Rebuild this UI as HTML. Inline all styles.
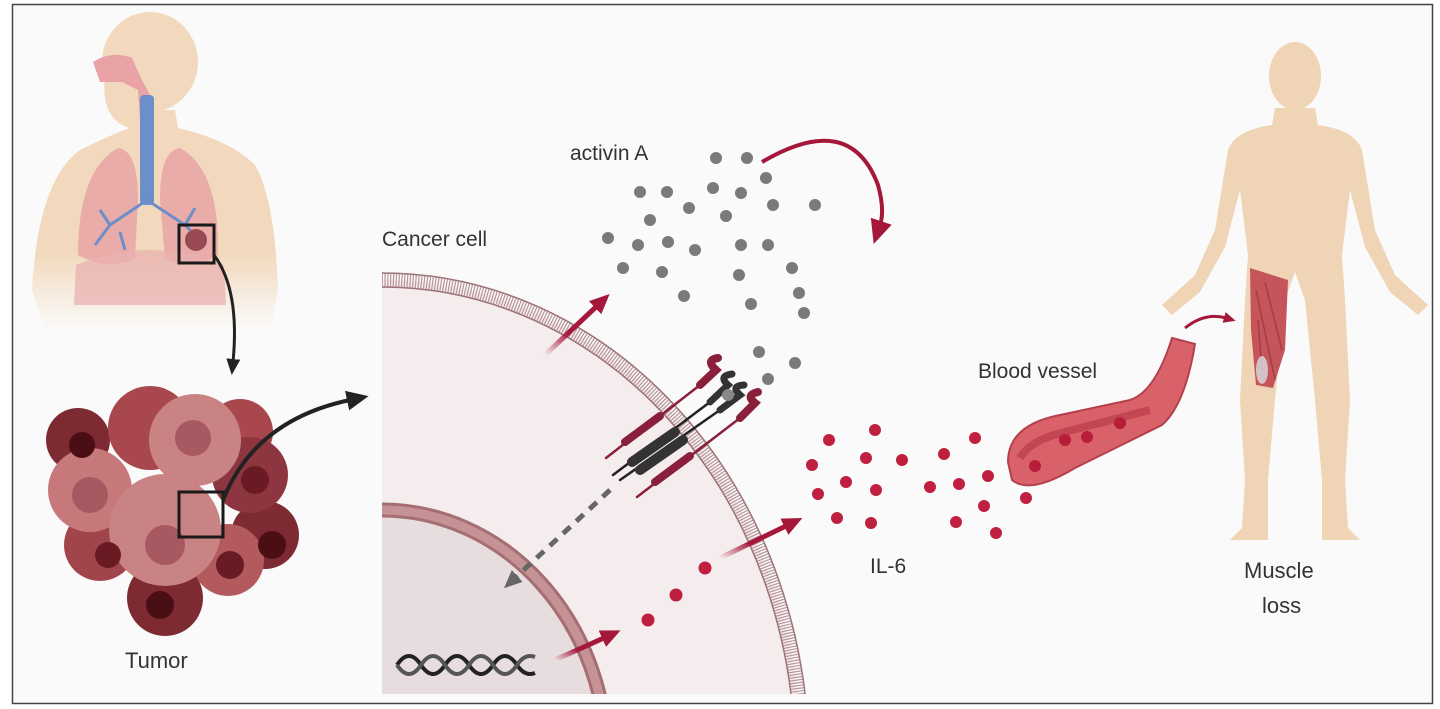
<!DOCTYPE html>
<html><head><meta charset="utf-8"><style>
html,body{margin:0;padding:0;background:#fff;overflow:hidden}
svg{display:block}
text{font-family:"Liberation Sans",sans-serif;fill:#333}
</style></head><body>
<svg width="1440" height="709" viewBox="0 0 1440 709" xmlns="http://www.w3.org/2000/svg">
<defs>
<clipPath id="cell"><rect x="382" y="268" width="426" height="426"/></clipPath>
<marker id="rh" markerWidth="20" markerHeight="18" refX="4" refY="9" orient="auto" markerUnits="userSpaceOnUse"><path d="M0,0 L20,9 L0,18 z" fill="#a5183a"/></marker>
<marker id="rh2" markerWidth="24" markerHeight="22" refX="4" refY="11" orient="auto" markerUnits="userSpaceOnUse"><path d="M0,0 L24,11 L0,22 z" fill="#a5183a"/></marker>
<marker id="rhs" markerWidth="12" markerHeight="11" refX="2" refY="5.5" orient="auto" markerUnits="userSpaceOnUse"><path d="M0,0 L12,5.5 L0,11 z" fill="#a5183a"/></marker>
<marker id="bh" markerWidth="16" markerHeight="14" refX="3" refY="7" orient="auto" markerUnits="userSpaceOnUse"><path d="M0,0 L16,7 L0,14 z" fill="#222"/></marker>
<marker id="bh2" markerWidth="22" markerHeight="20" refX="3" refY="10" orient="auto" markerUnits="userSpaceOnUse"><path d="M0,0 L22,10 L0,20 z" fill="#222"/></marker>
<marker id="gh" markerWidth="18" markerHeight="16" refX="3" refY="8" orient="auto" markerUnits="userSpaceOnUse"><path d="M0,0 L18,8 L0,16 z" fill="#666"/></marker>
<linearGradient id="fadeL" x1="0" y1="0" x2="0" y2="1"><stop offset="0.65" stop-color="#f2d9bd"/><stop offset="1" stop-color="#f2d9bd" stop-opacity="0"/></linearGradient>
<linearGradient id="ra1" x1="0" y1="1" x2="1" y2="0"><stop offset="0" stop-color="#a5183a" stop-opacity="0"/><stop offset="0.45" stop-color="#a5183a"/></linearGradient>
</defs>
<rect x="0" y="0" width="1440" height="709" fill="#fff"/>
<rect x="12.5" y="4.5" width="1420" height="699" fill="#fafafa" stroke="#444" stroke-width="1.5"/>

<!-- Lung figure -->
<g>
<path d="M32,290 Q38,180 80,150 Q110,135 130,128 L135,110 L175,110 L178,128 Q230,140 255,165 Q275,200 278,290 L270,330 L45,330 Z" fill="url(#fadeL)"/>
<ellipse cx="150" cy="62" rx="48" ry="50" fill="#f2d9bd"/>
<path d="M105,75 Q100,120 130,128 L150,128 L150,80 Z" fill="#f2d9bd"/>
<path d="M93,62 Q112,50 132,58 L142,80 L150,95 L150,120 L140,120 L138,90 L122,82 L100,82 Z" fill="#e9a3a6"/>
<path d="M78,255 Q78,170 118,148 Q138,150 138,200 L135,258 Q110,272 78,255 Z" fill="#e9a3a6" opacity="0.85"/>
<path d="M218,255 Q220,170 180,148 Q160,150 160,200 L165,258 Q190,272 218,255 Z" fill="#e9a3a6" opacity="0.85"/>
<path d="M76,265 Q150,235 224,265 L226,305 L74,305 Z" fill="#eab2b0" opacity="0.75"/>
<rect x="140" y="95" width="14" height="110" rx="4" fill="#6d8fc9"/>
<path d="M147,200 L110,225 L95,245 M110,225 L100,210 M147,200 L185,225 L200,240 M185,225 L195,208 M120,232 L125,250" stroke="#6d8fc9" stroke-width="3" fill="none"/>
<circle cx="196" cy="240" r="11" fill="#9a4a52"/>
<rect x="179" y="225" width="35" height="38" fill="none" stroke="#1a1a1a" stroke-width="3"/>
<path d="M214,255 Q240,290 233,362" stroke="#222" stroke-width="3" fill="none" marker-end="url(#bh)"/>
</g>

<!-- Tumor -->
<g>
<circle cx="78" cy="440" r="32" fill="#7d2a33"/>
<circle cx="240" cy="432" r="33" fill="#a8474d"/>
<circle cx="265" cy="535" r="34" fill="#7d2a33"/>
<circle cx="150" cy="428" r="42" fill="#a8474d"/>
<circle cx="100" cy="545" r="36" fill="#a0454c"/>
<circle cx="165" cy="598" r="38" fill="#7d2a33"/>
<circle cx="250" cy="475" r="38" fill="#8e3640"/>
<circle cx="90" cy="490" r="42" fill="#c7787a"/>
<circle cx="195" cy="440" r="46" fill="#c98384"/>
<circle cx="228" cy="560" r="36" fill="#b25a5e"/>
<circle cx="165" cy="530" r="56" fill="#c98384"/>
<circle cx="90" cy="495" r="18" fill="#a85860"/>
<circle cx="193" cy="438" r="18" fill="#a85860"/>
<circle cx="165" cy="545" r="20" fill="#a85860"/>
<circle cx="82" cy="445" r="13" fill="#4a0e15"/>
<circle cx="272" cy="545" r="14" fill="#4a0e15"/>
<circle cx="160" cy="605" r="14" fill="#4a0e15"/>
<circle cx="230" cy="565" r="14" fill="#6a1a22"/>
<circle cx="108" cy="555" r="13" fill="#6a1a22"/>
<circle cx="255" cy="480" r="14" fill="#6a1a22"/>
<rect x="179" y="492" width="44" height="45" fill="none" stroke="#1a1a1a" stroke-width="3"/>
<path d="M223,500 Q255,420 350,400" stroke="#222" stroke-width="4" fill="none" marker-end="url(#bh2)"/>
<text x="125" y="668" font-size="22">Tumor</text>
</g>

<!-- Cancer cell -->
<text x="382" y="246" font-size="21">Cancer cell</text>
<g clip-path="url(#cell)">
<rect x="382" y="268" width="426" height="426" fill="#fafafa"/>
<ellipse cx="382" cy="760" rx="420" ry="480" fill="#f5ecee"/>
<ellipse cx="382" cy="760" rx="420" ry="480" fill="none" stroke="#b79499" stroke-width="14" stroke-dasharray="1.2 1.6"/>
<ellipse cx="382" cy="760" rx="413" ry="473" fill="none" stroke="#9c7378" stroke-width="1.5"/>
<ellipse cx="382" cy="760" rx="427" ry="487" fill="none" stroke="#9c7378" stroke-width="1.5"/>
<ellipse cx="382" cy="760" rx="225" ry="250" fill="#e7dddf"/>
<ellipse cx="382" cy="760" rx="225" ry="250" fill="none" stroke="#c59395" stroke-width="10"/>
<ellipse cx="382" cy="760" rx="231" ry="256" fill="none" stroke="#a56e72" stroke-width="3"/>
<ellipse cx="382" cy="760" rx="219" ry="244" fill="none" stroke="#a56e72" stroke-width="3"/>
</g>
<!-- DNA -->
<path d="M397,665 q12,-18 24,0 q12,18 24,0 q12,-18 24,0 q12,18 24,0 q12,-18 24,0 q8,12 18,8" stroke="#222" stroke-width="4" fill="none"/>
<path d="M397,665 q12,18 24,0 q12,-18 24,0 q12,18 24,0 q12,-18 24,0 q12,18 24,0 q8,-12 18,-8" stroke="#555" stroke-width="4" fill="none"/>
<!-- receptors -->
<g stroke-linecap="round">
<path d="M606,458 L700,385" stroke="#8a1f3c" stroke-width="2.5"/>
<path d="M625,442 L660,416" stroke="#8a1f3c" stroke-width="8"/>
<path d="M700,385 L716,370 Q705,360 718,358" stroke="#8a1f3c" stroke-width="8" fill="none"/>
<path d="M613,475 L710,402" stroke="#222" stroke-width="2.5"/>
<path d="M620,480 L720,410" stroke="#222" stroke-width="2.5"/>
<path d="M632,462 L675,432" stroke="#333" stroke-width="10"/>
<path d="M640,470 L683,440" stroke="#333" stroke-width="10"/>
<path d="M710,402 L728,385 Q718,376 732,374" stroke="#333" stroke-width="7" fill="none"/>
<path d="M720,410 L740,395 Q730,386 744,385" stroke="#333" stroke-width="7" fill="none"/>
<path d="M637,497 L740,418" stroke="#8a1f3c" stroke-width="2.5"/>
<path d="M655,482 L690,456" stroke="#8a1f3c" stroke-width="8"/>
<path d="M740,418 L755,403 Q745,395 758,392" stroke="#8a1f3c" stroke-width="8" fill="none"/>
</g>
<circle cx="728" cy="395" r="6" fill="#888"/>
<path d="M610,490 L515,578" stroke="#666" stroke-width="5" stroke-dasharray="10 8" fill="none" marker-end="url(#gh)"/>
<!-- red arrows -->
<path d="M545,355 L598,305" stroke="url(#ra1)" stroke-width="5" fill="none" marker-end="url(#rh)"/>
<path d="M720,558 L788,525" stroke="url(#ra1)" stroke-width="5" fill="none" marker-end="url(#rh)"/>
<path d="M555,660 L606,637" stroke="url(#ra1)" stroke-width="5" fill="none" marker-end="url(#rh)"/>
<path d="M762,162 Q850,110 878,185 Q885,210 880,225" stroke="#a5183a" stroke-width="4" fill="none" marker-end="url(#rh2)"/>
<path d="M1185,328 Q1205,312 1226,318" stroke="#a5183a" stroke-width="3" fill="none" marker-end="url(#rhs)"/>

<text x="570" y="160" font-size="21">activin A</text>
<g fill="#7a7a7a">
<circle cx="716" cy="158" r="6"/><circle cx="747" cy="158" r="6"/><circle cx="766" cy="178" r="6"/><circle cx="640" cy="192" r="6"/><circle cx="667" cy="192" r="6"/><circle cx="713" cy="188" r="6"/><circle cx="741" cy="193" r="6"/><circle cx="689" cy="208" r="6"/><circle cx="773" cy="205" r="6"/><circle cx="815" cy="205" r="6"/><circle cx="650" cy="220" r="6"/><circle cx="726" cy="216" r="6"/><circle cx="608" cy="238" r="6"/><circle cx="638" cy="245" r="6"/><circle cx="668" cy="242" r="6"/><circle cx="695" cy="250" r="6"/><circle cx="741" cy="245" r="6"/><circle cx="768" cy="245" r="6"/><circle cx="623" cy="268" r="6"/><circle cx="662" cy="272" r="6"/><circle cx="739" cy="275" r="6"/><circle cx="792" cy="268" r="6"/><circle cx="684" cy="296" r="6"/><circle cx="751" cy="304" r="6"/><circle cx="799" cy="293" r="6"/><circle cx="804" cy="313" r="6"/><circle cx="759" cy="352" r="6"/><circle cx="795" cy="363" r="6"/><circle cx="768" cy="379" r="6"/>
</g>
<g fill="#c0203f">
<circle cx="829" cy="440" r="6"/><circle cx="875" cy="430" r="6"/><circle cx="812" cy="465" r="6"/><circle cx="866" cy="458" r="6"/><circle cx="902" cy="460" r="6"/><circle cx="944" cy="454" r="6"/><circle cx="975" cy="438" r="6"/><circle cx="846" cy="482" r="6"/><circle cx="818" cy="494" r="6"/><circle cx="876" cy="490" r="6"/><circle cx="930" cy="487" r="6"/><circle cx="959" cy="484" r="6"/><circle cx="988" cy="476" r="6"/><circle cx="837" cy="518" r="6"/><circle cx="871" cy="523" r="6"/><circle cx="956" cy="522" r="6"/><circle cx="984" cy="506" r="6"/><circle cx="1026" cy="498" r="6"/><circle cx="996" cy="533" r="6"/><circle cx="705" cy="568" r="6.5"/><circle cx="676" cy="595" r="6.5"/><circle cx="648" cy="620" r="6.5"/>
</g>
<text x="870" y="573" font-size="21">IL-6</text>

<!-- Blood vessel -->
<text x="978" y="378" font-size="21">Blood vessel</text>
<path d="M1008,462 Q1008,425 1060,415 L1130,400 Q1155,392 1172,338 L1195,344 Q1185,405 1162,425 L1075,468 Q1030,495 1012,480 Z" fill="#d9626a" stroke="#b5404d" stroke-width="2"/>
<path d="M1020,458 Q1030,440 1065,432 L1150,410" stroke="#c24753" stroke-width="8" fill="none"/>
<g fill="#b81d3a"><circle cx="1035" cy="466" r="6"/><circle cx="1065" cy="440" r="6"/><circle cx="1087" cy="437" r="6"/><circle cx="1120" cy="423" r="6"/></g>

<!-- Human body -->
<path d="M1275,108 L1272,125 Q1235,130 1228,150 L1215,230 L1195,275 L1162,305 L1172,315 L1200,292 L1225,247 L1240,190 L1248,255 L1245,300 L1240,400 L1245,480 L1242,528 L1230,540 L1268,540 L1268,480 L1275,400 L1285,300 L1295,272 L1305,300 L1315,400 L1322,480 L1322,540 L1360,540 L1348,528 L1345,480 L1350,400 L1345,300 L1342,255 L1350,190 L1365,247 L1390,292 L1418,315 L1428,305 L1395,275 L1375,230 L1362,150 Q1355,130 1318,125 L1315,108 Z" fill="#efd4b5"/>
<ellipse cx="1295" cy="76" rx="26" ry="34" fill="#efd4b5"/>
<path d="M1250,268 L1288,280 L1285,350 L1273,388 L1256,385 L1251,330 Z" fill="#c5555a"/>
<path d="M1256,290 L1275,380 M1265,282 L1282,350 M1258,320 L1262,370" stroke="#a33c44" stroke-width="1.5"/>
<ellipse cx="1262" cy="370" rx="6" ry="14" fill="#d8dde0" opacity="0.8"/>
<text x="1244" y="578" font-size="22">Muscle</text>
<text x="1262" y="613" font-size="22">loss</text>
</svg>
</body></html>
